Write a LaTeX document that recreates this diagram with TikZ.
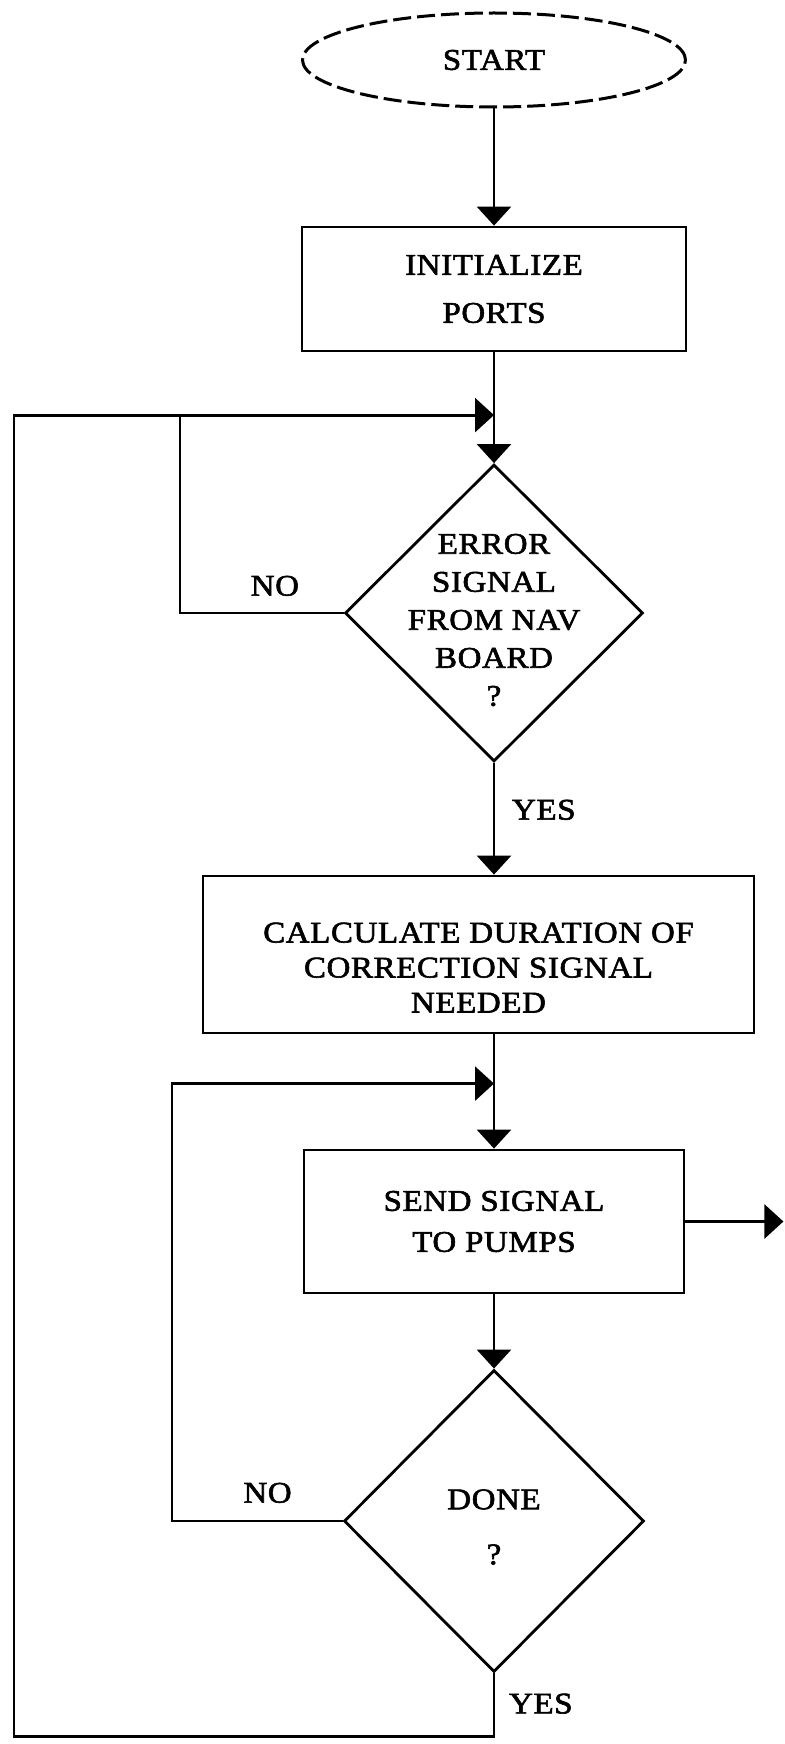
\documentclass[tikz,border=0pt]{standalone}
\usepackage{fontspec}
\setmainfont{Liberation Serif}[FakeStretch=1.1, LetterSpace=2, FakeBold=2]
\usetikzlibrary{shapes.geometric}
\usetikzlibrary{arrows.meta}

\begin{document}
\begin{tikzpicture}[line width=1.4pt, font=\fontsize{15pt}{19pt}\selectfont,
    main/.style = {draw, rectangle, align=center, inner sep=0pt},
    term/.style = {draw, ellipse, dash pattern=on 9pt off 3pt, line width=1.5pt, inner sep=0pt, minimum width=191.5pt, minimum height=47pt},
    dec/.style = {draw, diamond, inner sep=0pt},
    arr/.style = {-{Triangle[length=9.5pt, width=17pt]}}]
            \useasboundingbox (0,0) rectangle (392pt,-872pt);
            \node[term] (1) at (247pt,-30pt) {START};
            \node[main, minimum width=192pt, minimum height=62pt, font=\fontsize{15pt}{24pt}\selectfont] (2) [below of = 1, node distance=114.5pt] {INITIALIZE\\PORTS};
            \node[dec, minimum width=149pt, minimum height=148.5pt, label={[align=center, yshift=-3.5pt]center:{ERROR\\SIGNAL\\FROM NAV\\BOARD\\?}}] (3) [below of = 2, node distance=162pt] {};
            \node[main, minimum width=275.5pt, minimum height=78.5pt, text height=58pt, font=\fontsize{15pt}{17.5pt}\selectfont] (4) [below of = 3, node distance=170.75pt, xshift=-7.75pt] {CALCULATE DURATION OF\\CORRECTION SIGNAL\\NEEDED};
            \node[main, minimum width=190pt, minimum height=71.5pt, font=\fontsize{15pt}{20.5pt}\selectfont] (5) [below of = 4, node distance=133.5pt, xshift=7.75pt] {SEND SIGNAL\\TO PUMPS};
            \node[dec, minimum width=150pt, minimum height=151pt, label={[align=center, yshift=-3pt, font=\fontsize{15pt}{27.5pt}\selectfont]center:{DONE\\?}}] (6) [below of = 5, node distance=149.75pt] {};
            \coordinate (j1) at ([yshift=24pt]3.north);
            \coordinate (j2) at ([yshift=32.5pt]5.north);
            \coordinate (7) at ([xshift=49pt]5.east);
            \draw[arr] (1) -- (2);
            \draw[arr] (2) -- (3);
            \draw[arr] (3.south) -- node[right=5pt, pos=0.42] {YES} (3.south |- 4.north);
            \draw[arr] (4.south -| 5.north) -- (5.north);
            \draw[arr] (5) -- (6);
            \draw[arr] (5.east) -- (7);
            % loops back
            \draw (3.west) -| node[above=4.5pt, pos=0.21] {NO} ([xshift=-157pt]j1);
            \draw[arr] (6.west) -| node[above=5pt, pos=0.22] {NO} ([xshift=-161pt]j2) -- (j2);
            \draw[arr] (6.south) -- node[right=3.5pt, pos=0.48] {YES} ++(0,-31.5pt) -| ([xshift=-240pt]j1) -- (j1);
        \end{tikzpicture}
\end{document}
